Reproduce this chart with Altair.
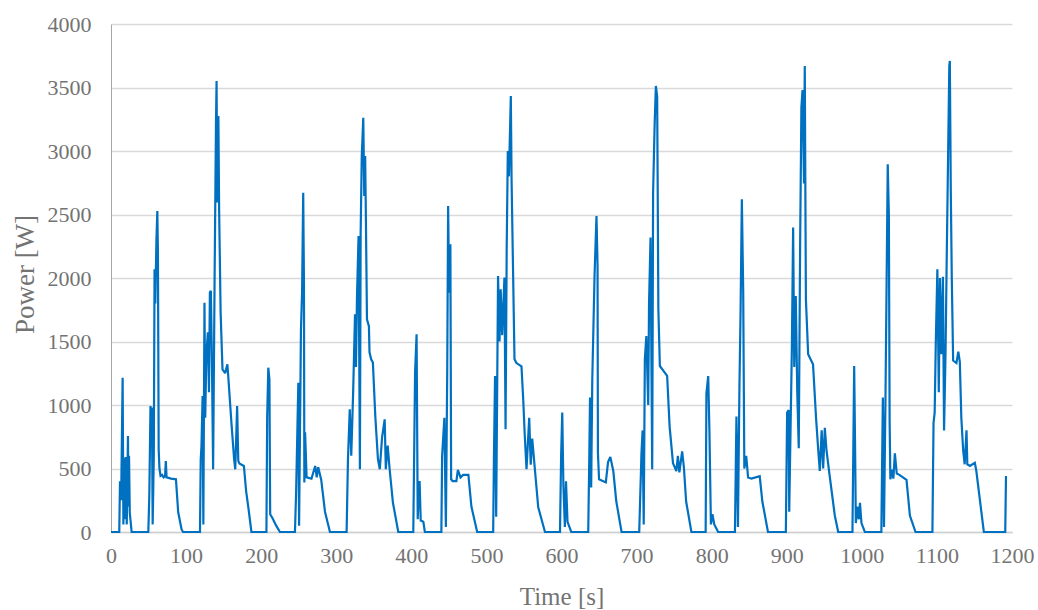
import altair as alt
import pandas as pd

# Measured power trace: time [s] and power [W]
time_s = [
    0, 11, 12, 13.5, 15.5, 16.5, 17.5, 18.5, 19.5, 21, 22.6, 23.3, 24, 25, 27.5,
    49.7, 51, 52.6, 53.5, 54.5, 55.5, 57, 58, 59, 60.5, 61.7, 62.5, 63.5, 64.5, 66, 68, 70, 72, 73, 74, 80, 86.5, 89.5, 94, 96,
    118.5, 119.5, 120.5, 122, 123, 124.5, 125.5, 127, 129, 130.5, 131.7, 133, 134.5, 136, 138, 139.8, 140.6, 141.5, 143, 144,
    146, 148.5, 152, 155, 156, 160.5, 164, 165.5, 168, 169.5, 171, 177, 180, 183, 187,
    207, 208, 209.5, 211, 212, 215, 220, 225,
    245, 246.5, 249.5, 250.5, 253, 254.5, 256, 257, 257.5, 258.5, 260.5, 267, 272, 274, 276, 280, 285, 291.6,
    313.8, 315.6, 318, 320, 322.5, 325, 326.3, 327.6, 329.7, 331.5, 332.5, 334, 336, 337.3, 338.5, 339.5, 340.9, 343.5,
    344.3, 346.5, 348.8, 352, 355.5, 358, 361, 364.5, 366, 368.5, 371, 375.5, 382.6,
    402.6, 405, 407, 408.5, 410, 411, 412.5, 416, 418,
    440, 441, 444, 446, 447.8, 449, 450.3, 452, 453, 455, 460, 462, 465.5, 469, 476, 480, 487.7,
    509, 510, 511.5, 513, 515.5, 517.5, 519, 521, 524, 525.5, 527, 528.5, 530, 532.5, 533.5, 537.4, 540, 546.7, 549, 551,
    553.4, 557, 559, 561, 564.6, 569, 578,
    598, 599.5, 601, 602.5, 604.5, 606, 608, 613,
    635.6, 637, 638, 639.5, 641, 644, 646.6, 648, 648.5, 650, 659, 662, 665, 669, 673, 680,
    703.5, 706.5, 708, 709.5, 711, 713, 715.5, 716.6, 718.6, 720.8, 722, 724, 725.7, 727.4, 728, 729, 731, 735.6, 740.7,
    744, 748.5, 753, 755, 757, 760.7, 763, 766, 773,
    792, 793, 795.4, 797, 799, 801, 803.5, 808.6,
    831, 833, 835, 837, 838.5, 840.2, 842, 843.5, 846, 848.5, 853, 864, 867.5, 875,
    898.8, 900.5, 902.5, 903.3, 905, 906.8, 908.5, 910, 912, 914, 916, 917.8, 919.5, 921, 923, 924, 925.5, 928.5, 935,
    939, 942, 944, 946.5, 948.5, 950.7, 953, 957, 964, 968.5,
    987.5, 989.8, 991, 992, 994, 996, 997.5, 999.5, 1004,
    1026, 1028, 1029.5, 1031.5, 1033, 1034.5, 1036, 1037, 1038, 1040, 1042, 1044, 1046.5, 1050, 1059.5, 1064, 1071.5,
    1094, 1095.5, 1097, 1098.5, 1100.6, 1102.5, 1104, 1106, 1108, 1109.5, 1111.5, 1113, 1115, 1116.5, 1117.2, 1118.5,
    1119.8, 1121.6, 1126, 1128.5, 1130.5, 1132.5, 1135, 1137, 1139.4, 1140.5, 1144, 1150.5, 1152.5, 1162.5,
    1191, 1192,
]

power_w = [
    0, 0, 400, 250, 1215, 60, 580, 100, 590, 60, 756, 200, 600, 150, 0,
    0, 280, 992, 700, 980, 60, 600, 2068, 1800, 2300, 2528, 2200, 651, 500, 442, 450, 430, 440, 559, 430, 420, 415, 155, 20, 0,
    0, 570, 677, 1071, 60, 1806, 900, 1400, 1572, 1100, 1885, 1900, 1300, 494, 2015, 3197, 3551, 2594, 3276, 2540,
    1727, 1281, 1250, 1320, 1240, 850, 572, 494, 992, 560, 540, 520, 320, 190, 0,
    0, 900, 1294, 1200, 140, 110, 50, 0,
    0, 300, 1176, 50, 1596, 1887, 2672, 1940, 389, 785, 430, 420, 520, 430, 510, 410, 160, 0,
    0, 572, 966, 600, 1100, 1714, 1300, 1845, 2331, 494, 2360, 2961, 3262, 2646, 2960, 2462, 1675, 1620,
    1415, 1360, 1334, 913, 575, 494, 743, 887, 494, 680, 500, 230, 0,
    0, 1255, 1557, 100, 340, 402, 90, 80, 0,
    0, 598, 900, 40, 1255, 2567, 1885, 2265, 415, 400, 400, 490, 430, 450, 450, 200, 0,
    0, 580, 1228, 120, 2016, 1500, 1911, 1550, 2003, 809, 2226, 3000, 2800, 3433, 2777, 1360, 1330, 1305, 1045, 770,
    494, 900, 530, 735, 490, 195, 0,
    0, 600, 940, 370, 40, 400, 80, 0,
    0, 580, 1058, 350, 1200, 2016, 2488, 2100, 625, 415, 390, 550, 590, 480, 240, 0,
    0, 620, 800, 60, 1360, 1543, 1000, 1806, 2318, 494, 2675, 3197, 3512, 3430, 2835, 1753, 1307, 1270, 1230,
    830, 542, 480, 600, 470, 635, 510, 240, 0,
    0, 1090, 1228, 800, 60, 140, 60, 0,
    0, 910, 40, 1150, 1740, 2620, 1900, 500, 600, 430, 420, 440, 240, 0,
    0, 940, 960, 160, 785, 1439, 2397, 1300, 1858, 1100, 660, 2250, 3342, 3480, 2745, 3669, 1832, 1400, 1320,
    900, 640, 480, 800, 500, 820, 640, 450, 130, 0,
    0, 1307, 680, 70, 200, 100, 230, 70, 0,
    0, 1058, 40, 1060, 1963, 2895, 2490, 880, 415, 490, 420, 620, 460, 450, 410, 130, 0,
    0, 860, 940, 1491, 2068, 1100, 2000, 1400, 2010, 800, 1420, 2130, 3013, 3670, 3709, 2670,
    2000, 1350, 1330, 1420, 1340, 900, 640, 533, 800, 533, 520, 545, 480, 0,
    0, 441,
]

x_ticks = list(range(0, 1201, 100))
y_ticks = list(range(0, 4001, 500))

df = pd.DataFrame({"t": time_s, "p": power_w})

FONT = "Liberation Serif"
TEXT = "#737373"

chart = (
    alt.Chart(df)
    .mark_line(color="#0070C0", strokeWidth=2.2, strokeJoin="miter", strokeMiterLimit=2)
    .encode(
        x=alt.X(
            "t:Q",
            scale=alt.Scale(domain=[0, 1200], nice=False, zero=False),
            axis=alt.Axis(
                title="Time [s]",
                values=x_ticks,
                format="d",
                labelFlush=False,
                labelOverlap=False,
                grid=False,
                ticks=False,
                domainColor="#d0d0d0",
                domainWidth=1.3,
                labelPadding=13,
                labelFont=FONT,
                labelFontSize=22,
                labelColor=TEXT,
                titleFont=FONT,
                titleFontSize=25,
                titleFontWeight="normal",
                titleColor=TEXT,
                titleX=450.5,
                titleY=64,
                titleBaseline="middle",
                titleAlign="center",
            ),
        ),
        y=alt.Y(
            "p:Q",
            scale=alt.Scale(domain=[0, 4000], nice=False),
            axis=alt.Axis(
                title="Power [W]",
                values=y_ticks,
                format="d",
                labelFlush=False,
                labelOverlap=False,
                grid=True,
                gridColor="#d9d9d9",
                gridWidth=1.3,
                ticks=False,
                domainColor="#a6a6a6",
                domainWidth=1,
                labelPadding=20,
                labelFont=FONT,
                labelFontSize=22,
                labelColor=TEXT,
                titleFont=FONT,
                titleFontSize=27,
                titleFontWeight="normal",
                titleColor=TEXT,
                titleX=-86,
                titleY=250,
                titleAngle=270,
                titleBaseline="middle",
                titleAlign="center",
            ),
        ),
        order="t:Q",
    )
    .properties(
        width=901,
        height=508,
        padding={"left": 111, "top": 24, "right": 26, "bottom": 78},
        autosize="none",
        background="white",
    )
    .configure_view(stroke=None)
)

chart.save("out.html", embed_options={"renderer": "svg", "actions": False})
